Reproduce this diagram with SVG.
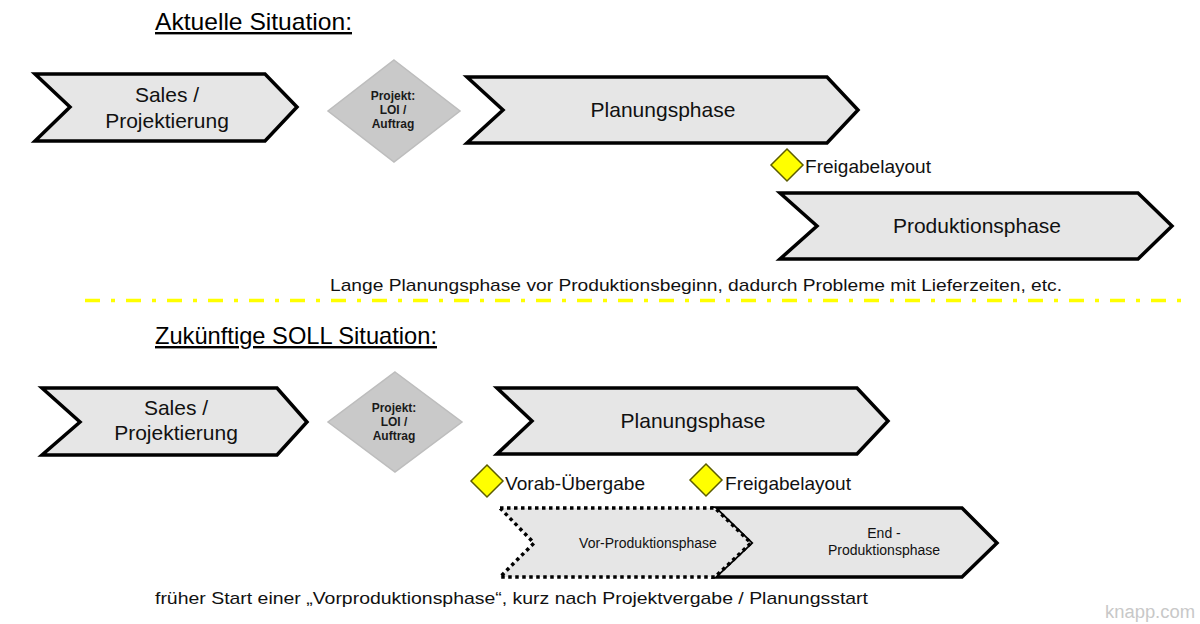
<svg xmlns="http://www.w3.org/2000/svg" width="1200" height="624" viewBox="0 0 1200 624">
<style>
.chev{fill:#e6e6e6;stroke:#000;stroke-width:3.5;stroke-linejoin:miter}
.dot{fill:#e6e6e6;stroke:#000;stroke-width:3.5;stroke-dasharray:3.5 3.5}
.dia{fill:#c9c9c9;stroke:#bdbdbd;stroke-width:1.5}
.ms{fill:#ffff00;stroke:#5c5c00;stroke-width:1.5}
text{font-family:"Liberation Sans",Arial,sans-serif;fill:#111}
.lg{font-size:21px}
.md{font-size:19px}
.sm{font-size:14px}
.b{font-size:12px;font-weight:bold;fill:#1a1a1a}
.t{font-size:24px;text-decoration:underline;fill:#000}
.c{text-anchor:middle}
</style>
<g id="title-top"><text class="t" x="155" y="30" textLength="197" lengthAdjust="spacingAndGlyphs">Aktuelle Situation:</text></g>
<g id="sales-top"><polygon class="chev" points="35,74 265,74 297,107 265,141 35,141 70,107"/><text class="lg c" x="167" y="102">Sales /</text><text class="lg c" x="167" y="128">Projektierung</text></g>
<g id="loi-top"><polygon class="dia" points="394,60 460,111 394,162 328,111"/><text class="b c" x="393" y="100">Projekt:</text><text class="b c" x="393" y="114">LOI /</text><text class="b c" x="393" y="128">Auftrag</text></g>
<g id="plan-top"><polygon class="chev" points="467,77 827,77 858,110 827,143 467,143 503,110"/><text class="lg c" x="663" y="117">Planungsphase</text></g>
<g id="freigabe-top"><polygon class="ms" points="787,149 803,165 787,181 771,165"/><text class="md" x="805" y="173" textLength="126" lengthAdjust="spacingAndGlyphs">Freigabelayout</text></g>
<g id="prod-top"><polygon class="chev" points="780,193 1138,193 1172,226 1138,259 780,259 817,226"/><text class="lg c" x="977" y="233">Produktionsphase</text></g>
<g id="note-top"><text class="md" style="font-size:17px" x="330" y="291" textLength="732" lengthAdjust="spacingAndGlyphs">Lange Planungsphase vor Produktionsbeginn, dadurch Probleme mit Lieferzeiten, etc.</text></g>
<g id="separator"><line x1="85" y1="300.5" x2="1182" y2="300.5" stroke="#ffff00" stroke-width="3.5" stroke-dasharray="15 11 4 11"/></g>
<g id="title-bottom"><text class="t" x="155" y="344" textLength="282" lengthAdjust="spacingAndGlyphs">Zukünftige SOLL Situation:</text></g>
<g id="sales-bottom"><polygon class="chev" points="42,388 277,388 307,422 277,455 42,455 80,422"/><text class="lg c" x="176" y="415">Sales /</text><text class="lg c" x="176" y="440">Projektierung</text></g>
<g id="loi-bottom"><polygon class="dia" points="395,372 462,422 395,472 328,422"/><text class="b c" x="394" y="412">Projekt:</text><text class="b c" x="394" y="426">LOI /</text><text class="b c" x="394" y="440">Auftrag</text></g>
<g id="plan-bottom"><polygon class="chev" points="497,388 857,388 888,421 857,454 497,454 532,421"/><text class="lg c" x="693" y="428">Planungsphase</text></g>
<g id="vorab"><polygon class="ms" points="487,465 503,481 487,497 471,481"/><text class="md" x="505" y="490" textLength="140" lengthAdjust="spacingAndGlyphs">Vorab-Übergabe</text></g>
<g id="freigabe-bottom"><polygon class="ms" points="706,464 722,480 706,496 690,480"/><text class="md" x="725" y="490" textLength="126" lengthAdjust="spacingAndGlyphs">Freigabelayout</text></g>
<g id="end-prod"><polygon class="chev" points="715,508 962,508 997,543 962,577 715,577 751,543"/><text class="sm c" x="884" y="538">End -</text><text class="sm c" x="884" y="555">Produktionsphase</text></g>
<g id="vor-prod"><polygon class="dot" points="500,508 715,508 751,543 715,577 500,577 534,543"/><text class="sm c" x="648" y="548">Vor-Produktionsphase</text></g>
<g id="note-bottom"><text class="md" style="font-size:17px" x="155" y="604" textLength="713" lengthAdjust="spacingAndGlyphs">früher Start einer „Vorproduktionsphase“, kurz nach Projektvergabe / Planungsstart</text></g>
<g id="watermark"><text x="1105" y="618" style="font-size:18px;fill:#c8c8c8" textLength="90" lengthAdjust="spacingAndGlyphs">knapp.com</text></g>
</svg>
